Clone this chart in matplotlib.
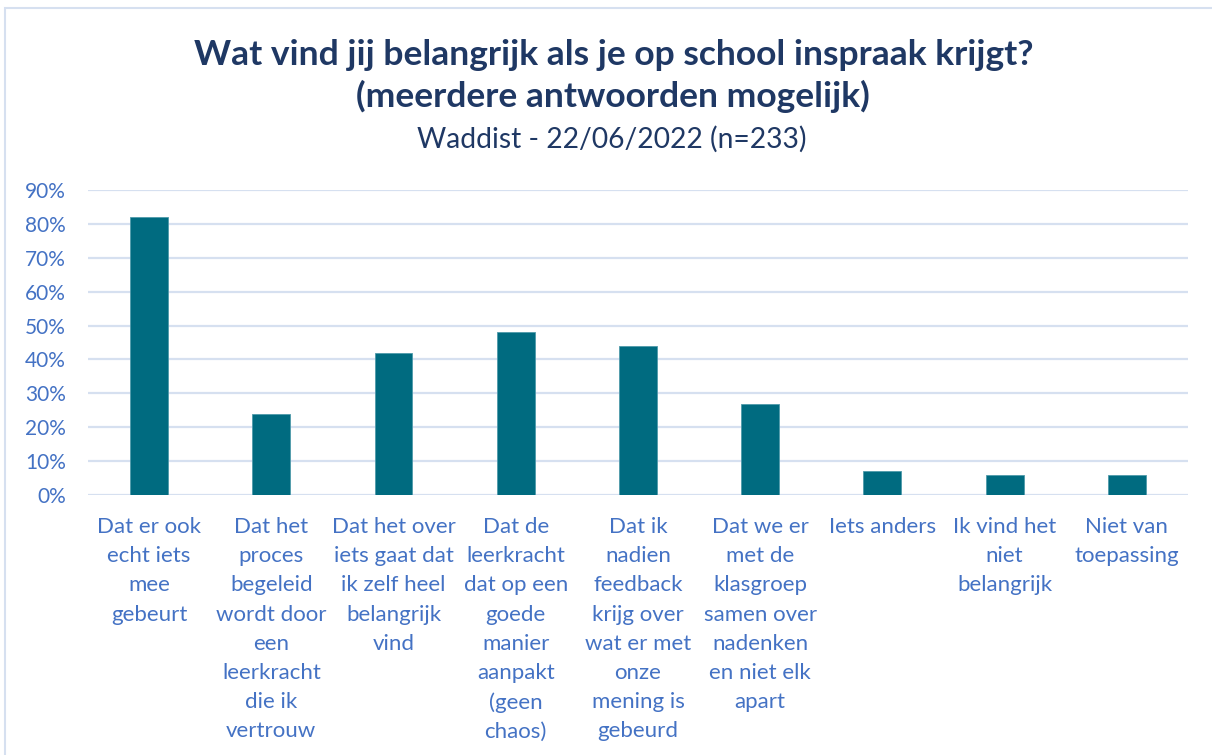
import matplotlib
matplotlib.use("Agg")
import matplotlib.pyplot as plt
from matplotlib.patches import Rectangle
from matplotlib.ticker import PercentFormatter

categories = [
    "Dat er ook\necht iets\nmee\ngebeurt",
    "Dat het\nproces\nbegeleid\nwordt door\neen\nleerkracht\ndie ik\nvertrouw",
    "Dat het over\niets gaat dat\nik zelf heel\nbelangrijk\nvind",
    "Dat de\nleerkracht\ndat op een\ngoede\nmanier\naanpakt\n(geen\nchaos)",
    "Dat ik\nnadien\nfeedback\nkrijg over\nwat er met\nonze\nmening is\ngebeurd",
    "Dat we er\nmet de\nklasgroep\nsamen over\nnadenken\nen niet elk\napart",
    "Iets anders",
    "Ik vind het\nniet\nbelangrijk",
    "Niet van\ntoepassing",
]
values = [82, 24, 42, 48, 44, 27, 7, 6, 6]
yticks = [0, 10, 20, 30, 40, 50, 60, 70, 80, 90]

title_main = "Wat vind jij belangrijk als je op school inspraak krijgt?\n(meerdere antwoorden mogelijk)"
subtitle = "Waddist - 22/06/2022 (n=233)"

plt.rcParams['font.family'] = ['Lato', 'DejaVu Sans']

fig = plt.figure(figsize=(12.12, 7.55), dpi=100)
fig.patches.append(Rectangle((0.004, -0.01), 1.0, 1.0, transform=fig.transFigure,
                             fill=False, edgecolor="#D6E0F0", linewidth=1.5))

ax = fig.add_axes([88/1212, 1-495/755, 1100/1212, (495-190)/755])
x = list(range(len(categories)))
ax.bar(x, values, width=0.31, color="#006B80", edgecolor="#4F9AAA", linewidth=0.6, zorder=3)
ax.set_xlim(-0.5, len(categories)-0.5)
ax.set_ylim(0, 90)
ax.set_yticks(yticks)
ax.yaxis.set_major_formatter(PercentFormatter(decimals=0))
ax.grid(axis="y", color="#D6E0F0", linewidth=1.6, zorder=0)
for s in ax.spines.values():
    s.set_visible(False)
ax.tick_params(axis="y", length=0, labelsize=15, labelcolor="#4472C4", pad=16)
ax.tick_params(axis="x", length=0, labelsize=16, labelcolor="#4472C4", pad=16)
ax.set_xticks(x)
ax.set_xticklabels(categories, linespacing=1.57, va="top")

fig.text(0.506, 1-76/755, title_main, ha="center", va="center", fontsize=25.5,
         fontweight="bold", color="#1F3864", linespacing=1.34)
fig.text(0.505, 1-139/755, subtitle, ha="center", va="center", fontsize=20.3, color="#1F3864")

fig.savefig("out.png", dpi=100)
